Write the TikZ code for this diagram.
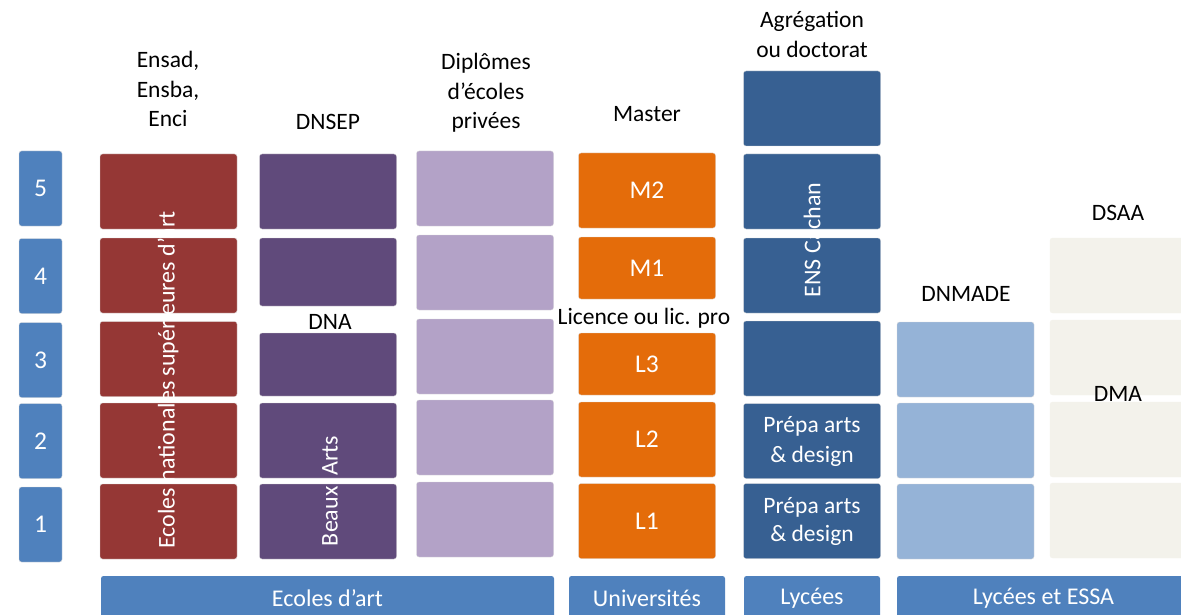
\documentclass[tikz,border=0pt]{standalone}
\usepackage{fontspec}
\setmainfont{Carlito}
\definecolor{numblue}{HTML}{4F81BD}
\definecolor{artred}{HTML}{953735}
\definecolor{dnpurple}{HTML}{604A7B}
\definecolor{lpurple}{HTML}{B3A2C7}
\definecolor{uorange}{HTML}{E46C0A}
\definecolor{dblue}{HTML}{376092}
\definecolor{lblue}{HTML}{95B3D7}
\definecolor{beige}{HTML}{F3F2EB}
\begin{document}
\begin{tikzpicture}[x=1pt,y=-1pt,
  blk/.style={rounded corners=2.5pt, inner sep=0pt, draw=white!85!black, line width=0.3pt,
    minimum width=137pt, font=\fontsize{25.5}{28}\selectfont, text=white, align=center},
  lbl/.style={font=\fontsize{23.5}{29.5}\selectfont, align=center, text=black, inner sep=0pt},
  vtxt/.style={rotate=90, text=white, font=\fontsize{24}{28}\selectfont, inner sep=0pt},
  bar/.style={fill=numblue, rounded corners=2.5pt, inner sep=0pt, text=white,
    font=\fontsize{24}{28}\selectfont, minimum height=44pt}]
\useasboundingbox (0,0) rectangle (1181,615);
\begin{scope}
\clip (0,0) rectangle (1181,615);
% year numbers
\foreach \n/\y in {5/188.5,4/276,3/360,2/441,1/524.5}{
  \node[blk, fill=numblue, minimum width=43pt, minimum height=75pt] (n\n) at (40.5,\y) {\n};
}
% red column
\foreach \i/\y in {5/191.5,4/275.5,3/359,2/440.5,1/521.5}{
  \node[blk, fill=artred, minimum height=75pt] (r\i) at (168.5,\y) {};
}
% purple column
\node[blk, fill=dnpurple, minimum height=75pt] (p5) at (328,191.5) {};
\node[blk, fill=dnpurple, minimum height=68pt] (p4) at (328,272) {};
\node[blk, fill=dnpurple, minimum height=63pt] (p3) at (328,364.5) {};
\node[blk, fill=dnpurple, minimum height=75pt] (p2) at (328,440.5) {};
\node[blk, fill=dnpurple, minimum height=75pt] (p1) at (328,521.5) {};
% light purple column
\foreach \i/\y in {5/188.5,4/272.5,3/356.5,2/437.5,1/519.5}{
  \node[blk, fill=lpurple, minimum height=75pt] (lp\i) at (485,\y) {};
}
% orange column
\node[blk, fill=uorange, minimum height=75pt] (m2) at (647,190.5) {M2};
\node[blk, fill=uorange, minimum height=62pt] (m1) at (647,268) {M1};
\node[blk, fill=uorange, minimum height=62pt] (l3) at (647,364) {L3};
\node[blk, fill=uorange, minimum height=75pt] (l2) at (647,439.5) {L2};
\node[blk, fill=uorange, minimum height=75pt] (l1) at (647,521) {L1};
% dark blue column
\node[blk, fill=dblue, minimum height=75pt] (d6) at (812,108.5) {};
\node[blk, fill=dblue, minimum height=75pt] (d5) at (812,191.5) {};
\node[blk, fill=dblue, minimum height=75pt] (d4) at (812,275.5) {};
\node[blk, fill=dblue, minimum height=75pt] (d3) at (812,358.5) {};
\node[blk, fill=dblue, minimum height=75pt, font=\fontsize{23.5}{30}\selectfont] (d2) at (812,441) {Prépa arts\\\& design};
\node[blk, fill=dblue, minimum height=75pt, font=\fontsize{23.5}{28}\selectfont] (d1) at (812,521) {Prépa arts\\\& design};
% light blue column
\foreach \i/\y in {3/359.5,2/440.5,1/521.5}{
  \node[blk, fill=lblue, minimum height=75pt] (lb\i) at (965.5,\y) {};
}
% beige column
\foreach \i/\y in {4/275.5,3/357.5,2/439.5,1/520.5}{
  \node[blk, fill=beige, draw=beige, minimum height=75pt] (b\i) at (1118.5,\y) {};
}
% bottom bars
\node[bar, minimum width=453pt] (bEcoles) at (327.5,598) {Ecoles d’art};
\node[bar, minimum width=156pt] (bUniv) at (647,598) {Universités};
\node[bar, minimum width=136pt] (bLyc) at (812,598) {Lycées};
\node[bar, minimum width=293pt] (bEssa) at (1043.5,598) {Lycées et ESSA};
\end{scope}
% vertical texts
\node[vtxt] (vEcoles) at (168,380) {Ecoles nationales supérieures d’art};
\node[vtxt] (vBeaux) at (330,491) {Beaux\ \ Arts};
\node[vtxt] (vENS) at (812,240) {ENS Cachan};
% labels
\node[lbl] (tEnsad) at (168,89) {Ensad,\\Ensba,\\Enci};
\node[lbl] (tDNSEP) at (328,122) {DNSEP};
\node[lbl] (tDNA) at (330,322) {DNA};
\node[lbl] (tPriv) at (486,93) {Diplômes\\d’écoles\\privées};
\node[lbl] (tMaster) at (647,114) {Master};
\node[lbl] (tLic) at (644,318) {Licence ou lic. pro};
\node[lbl] (tAgreg) at (812,34.5) {Agrégation\\ou doctorat};
\node[lbl] (tDNMADE) at (966,294) {DNMADE};
\node[lbl] (tDSAA) at (1118,213) {DSAA};
\node[lbl] (tDMA) at (1118,394) {DMA};
\end{tikzpicture}
\end{document}
